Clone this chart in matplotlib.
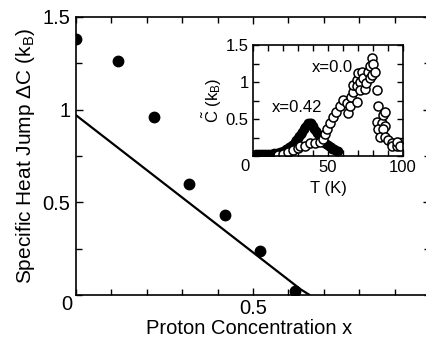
import matplotlib
matplotlib.use("Agg")
import matplotlib.pyplot as plt
from matplotlib.ticker import MultipleLocator, FixedLocator

plt.rcParams['font.family'] = ['Liberation Sans', 'DejaVu Sans']
plt.rcParams['mathtext.fontset'] = 'custom'
plt.rcParams['mathtext.rm'] = 'Liberation Sans'
plt.rcParams['mathtext.it'] = 'Liberation Sans'

# ---- main panel data ----
conc_x = [0.0, 0.12, 0.22, 0.32, 0.42, 0.52, 0.62]
jump_dc = [1.38, 1.26, 0.96, 0.60, 0.43, 0.24, 0.02]
line_x = [0.0, 0.635, 0.66]
line_y = [0.97, 0.03, 0.0]

# ---- inset data ----
t_x00 = [16.7, 20, 23.3, 26.7, 30, 31.3, 34.7, 38, 41.3, 44.7, 46.9, 48, 49.1, 51.3,
         53.6, 55.6, 57.8, 60.2, 62.4, 63.6, 64.7, 65.5, 66.9, 66.9, 69.1, 70.2, 69.1,
         69.1, 71.3, 71.3, 72.4, 73.5, 74.5, 75.6, 76.9, 77.8, 78, 79.1, 79.1, 80.2,
         81.3, 82.4, 83.6, 82.4, 85.8, 86.9, 88, 88, 83.6, 86.9, 84.7, 88, 90.2, 92.4,
         92.4, 95.8, 95.8, 98]
c_x00 = [0.01, 0.03, 0.05, 0.08, 0.11, 0.14, 0.14, 0.17, 0.17, 0.19, 0.23, 0.30, 0.36,
         0.45, 0.53, 0.60, 0.67, 0.76, 0.71, 0.58, 0.67, 0.80, 0.87, 0.96, 1.03, 1.12,
         0.95, 0.73, 1.00, 0.89, 1.14, 1.06, 0.91, 0.98, 1.14, 1.06, 1.21, 1.32, 1.10,
         1.25, 1.14, 0.89, 0.67, 0.46, 0.44, 0.55, 0.60, 0.40, 0.37, 0.37, 0.26, 0.26,
         0.22, 0.17, 0.13, 0.13, 0.19, 0.13]

t_x42 = [2, 4, 6, 8, 10, 12, 14, 16, 18, 20, 22, 24, 26, 28, 29, 30, 31, 32, 33, 34, 35,
         36, 37, 38, 39, 40, 41, 42, 43, 44, 45, 46, 47, 48, 49, 50, 51, 52, 53, 54, 55,
         56, 57]
c_x42 = [0.03, 0.03, 0.03, 0.03, 0.03, 0.03, 0.035, 0.04, 0.05, 0.07, 0.09, 0.12, 0.15,
         0.19, 0.22, 0.25, 0.27, 0.30, 0.33, 0.36, 0.39, 0.42, 0.44, 0.45, 0.44, 0.40,
         0.37, 0.34, 0.31, 0.28, 0.24, 0.21, 0.19, 0.17, 0.16, 0.15, 0.14, 0.12, 0.10,
         0.09, 0.08, 0.07, 0.07]

W, H = 427, 339
fig = plt.figure(figsize=(W / 100, H / 100), dpi=100)

# main axes: x 76..430 px, y 17..295 px
ax = fig.add_axes([76 / W, (H - 295) / H, 354 / W, 278 / H])
ax.plot(line_x, line_y, color='black', lw=1.6, solid_capstyle='round')
ax.plot(conc_x, jump_dc, 'o', color='black', ms=7.5)
ax.set_xlim(0, 1.0)
ax.set_ylim(0, 1.5)
ax.xaxis.set_major_locator(FixedLocator([0.5]))
ax.xaxis.set_minor_locator(MultipleLocator(0.1))
ax.yaxis.set_major_locator(FixedLocator([0.5, 1.0, 1.5]))
ax.yaxis.set_minor_locator(MultipleLocator(0.25))
ax.set_xticklabels(['0.5'])
ax.set_yticklabels(['0.5', '1', '1.5'])
ax.tick_params(which='both', direction='in', top=True, right=True, width=1.0,
               labelsize=14.5)
ax.tick_params(axis='x', pad=3)
ax.tick_params(axis='y', pad=4)
ax.tick_params(which='major', length=5)
ax.tick_params(which='minor', length=4)
for s in ax.spines.values():
    s.set_linewidth(1.2)
ax.annotate('0', xy=(0, 0), xycoords='data', xytext=(-9, -10),
            textcoords='offset pixels', ha='center', va='center', fontsize=14.5)
fig.text(249 / W, 1 - 334 / H, 'Proton Concentration x', fontsize=14.5,
         ha='center', va='baseline')
ax.set_ylabel('Specific Heat Jump ΔC ($\\mathrm{k_B}$)', fontsize=15, labelpad=4)

# inset axes: x 253..403 px, y 45..156 px
ins = fig.add_axes([253 / W, (H - 156) / H, 150 / W, 111 / H])
ins.plot(t_x42, c_x42, 'o', ms=6, mfc='black', mec='black', mew=1.0)
ins.plot(t_x00, c_x00, 'o', ms=6.5, mfc='white', mec='black', mew=1.1)
ins.set_xlim(0, 100)
ins.set_ylim(0, 1.5)
ins.xaxis.set_major_locator(FixedLocator([50, 100]))
ins.xaxis.set_minor_locator(MultipleLocator(10))
ins.yaxis.set_major_locator(FixedLocator([0.5, 1.0, 1.5]))
ins.yaxis.set_minor_locator(MultipleLocator(0.25))
ins.set_xticklabels(['50', '100'])
ins.set_yticklabels(['0.5', '1', '1.5'])
ins.tick_params(which='both', direction='in', top=True, right=True, width=1.0,
                labelsize=12, pad=3)
ins.tick_params(which='major', length=4)
ins.tick_params(which='minor', length=4)
for s in ins.spines.values():
    s.set_linewidth(1.2)
ins.annotate('0', xy=(0, 0), xycoords='data', xytext=(-8, -10),
             textcoords='offset pixels', ha='center', va='center', fontsize=12)
ins.set_xlabel('T (K)', fontsize=12, labelpad=4)
ins.set_ylabel('$\\tilde{\\mathrm{C}}$ ($\\mathrm{k_B}$)', fontsize=12, labelpad=1)
ins.text(52.7, 1.2, 'x=0.0', fontsize=12, ha='center', va='center')
ins.text(29.3, 0.65, 'x=0.42', fontsize=12, ha='center', va='center')

fig.savefig('out.png', dpi=100)
